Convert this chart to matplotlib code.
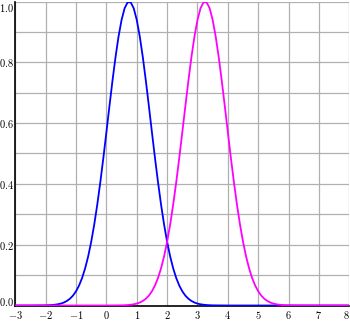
import matplotlib
matplotlib.use("Agg")
import matplotlib.pyplot as plt
from matplotlib.ticker import MultipleLocator, FuncFormatter

plt.rcParams["mathtext.fontset"] = "cm"

# values (bell shaped curves, peak ~1.0)
bell_y = [0.0005, 0.0009, 0.0015, 0.0025, 0.0040, 0.0063, 0.0098, 0.0150,
          0.0223, 0.0326, 0.0468, 0.0657, 0.0905, 0.1222, 0.1616, 0.2096,
          0.2665, 0.3321, 0.4056, 0.4855, 0.5698, 0.6554, 0.7390, 0.8167,
          0.8847, 0.9394, 0.9778, 0.9975,
          0.9975, 0.9778, 0.9394, 0.8847, 0.8167, 0.7390, 0.6554, 0.5698,
          0.4855, 0.4056, 0.3321, 0.2665, 0.2096, 0.1616, 0.1222, 0.0905,
          0.0657, 0.0468, 0.0326, 0.0223, 0.0150, 0.0098, 0.0063, 0.0040,
          0.0025, 0.0015, 0.0009, 0.0005]

blue_x = [-3.0, -2.5] + [round(-2.0 + 0.1 * i, 1) for i in range(56)] + [4.0, 5.0, 6.0, 7.0, 8.0]
blue_y = [0.0, 0.0] + bell_y + [0.0, 0.0, 0.0, 0.0, 0.0]

magenta_x = [-3.0, -2.0, -1.0, 0.0] + [round(0.5 + 0.1 * i, 1) for i in range(56)] + [6.5, 7.0, 8.0]
magenta_y = [0.0, 0.0, 0.0, 0.0] + bell_y + [0.0, 0.0, 0.0]

x_ticks = list(range(-3, 9))
y_ticks = [0.0, 0.2, 0.4, 0.6, 0.8, 1.0]

fig = plt.figure(figsize=(3.5, 3.21), dpi=100)
ax = fig.add_axes([15.3 / 350, 15.5 / 321, 334.0 / 350, 304.0 / 321])

ax.plot(blue_x, blue_y, color="#0000ff", lw=1.3, zorder=3)
ax.plot(magenta_x, magenta_y, color="#ff00ff", lw=1.3, zorder=3)

ax.set_xlim(-3, 8)
ax.set_ylim(0, 1)
ax.set_xticks(x_ticks)
ax.set_yticks(y_ticks)
ax.yaxis.set_minor_locator(MultipleLocator(0.1))
ax.xaxis.set_major_formatter(FuncFormatter(lambda v, p: f"${v:.0f}$"))
ax.yaxis.set_major_formatter(FuncFormatter(lambda v, p: f"${v:.1f}$"))

ax.grid(True, which="both", color="#b0b0b0", lw=0.9, zorder=0)
ax.set_axisbelow(True)
ax.tick_params(which="both", length=0, labelsize=7.5)
ax.tick_params(axis="y", pad=1.2)
ax.tick_params(axis="x", pad=2.5)

for s in ["top", "right"]:
    ax.spines[s].set_visible(False)
for s in ["left", "bottom"]:
    ax.spines[s].set_color("black")
    ax.spines[s].set_linewidth(1.2)

# keep edge labels inside the picture
xl = ax.get_xticklabels()
xl[-1].set_horizontalalignment("right")
yl = ax.get_yticklabels()
yl[0].set_verticalalignment("baseline")
yl[-1].set_verticalalignment("top")

fig.savefig("out.png", dpi=100)
